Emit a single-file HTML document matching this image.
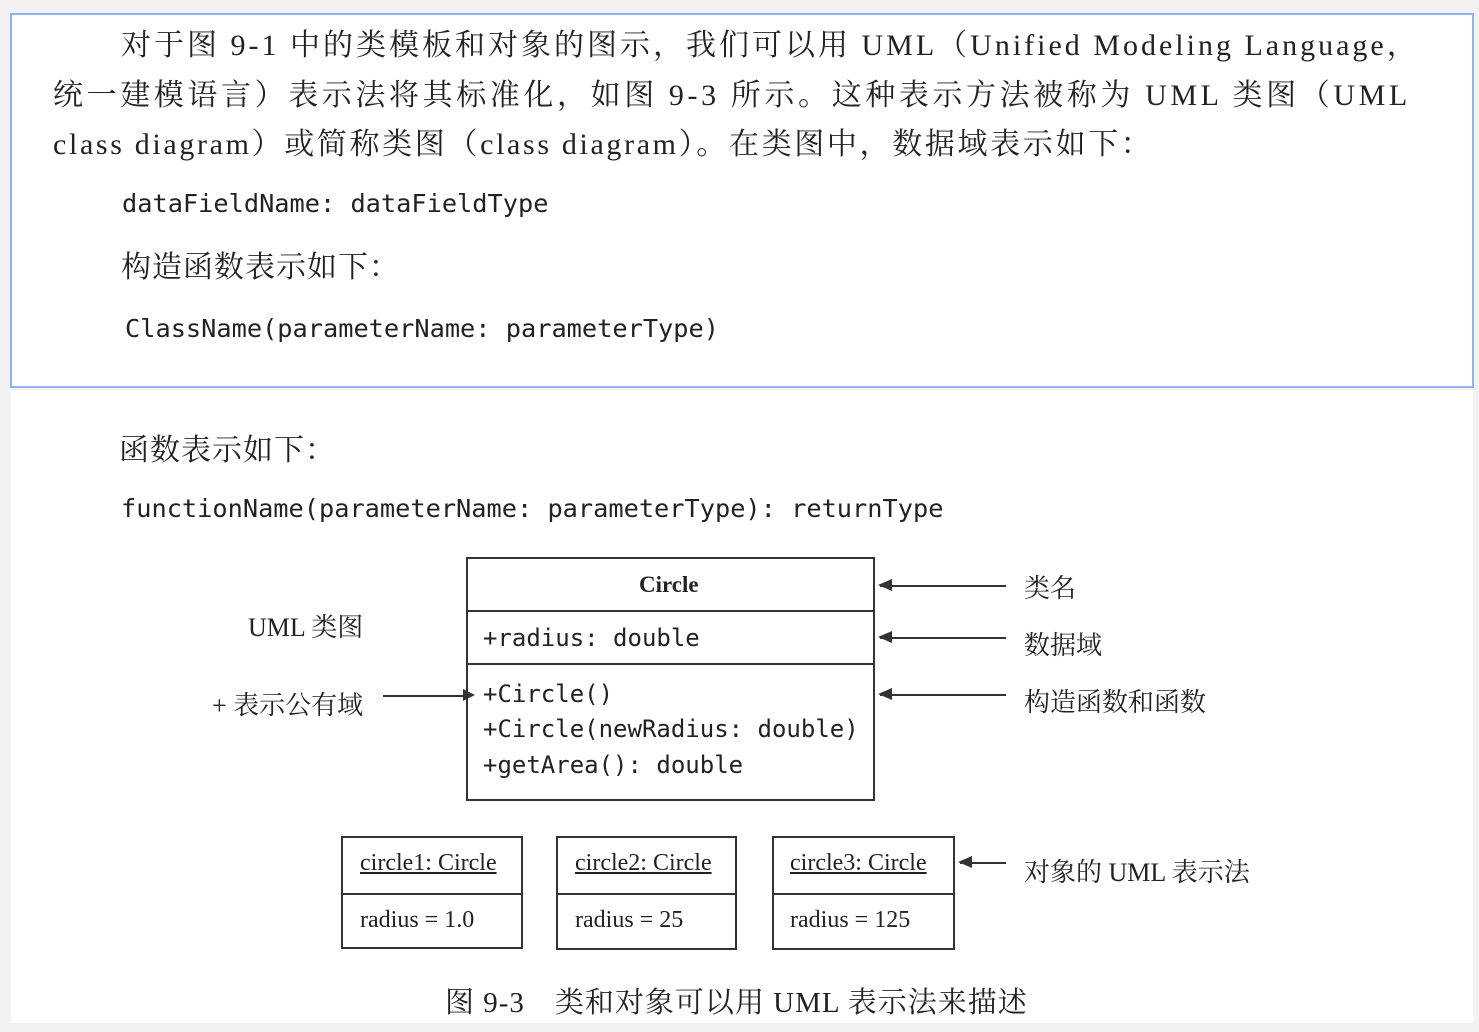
<!DOCTYPE html>
<html><head><meta charset="utf-8"><style>
body{margin:0;width:1479px;height:1032px;background:#f2f2f2;position:relative;overflow:hidden;font-family:"Liberation Serif","Noto Serif CJK SC",serif;color:#222}
.a{position:absolute;white-space:nowrap}
.top{position:absolute;left:10px;top:13px;width:1460px;height:371px;background:#fff;border:2px solid #8fb3ea}
.bot{position:absolute;left:11px;top:390px;width:1462px;height:633px;background:#fff}
.t{font-size:30px}
.m{font-family:"DejaVu Sans Mono","Liberation Mono",monospace;font-size:25.3px}
.mb{font-family:"DejaVu Sans Mono","Liberation Mono",monospace;font-size:24px}
.box{position:absolute;border:2px solid #333;box-sizing:border-box}
.ln{position:absolute;height:0;border-top:2px solid #333}
.c{font-size:24px}
.k{font-size:26px}
</style></head><body>
<div class="top"></div>
<div class="bot"></div>
<div class="a t" style="left:121px;top:20px;letter-spacing:3px">对于图 9-1 中的类模板和对象的图示，我们可以用 UML（Unified Modeling Language，</div>
<div class="a t" style="left:53px;top:70px;letter-spacing:3.6px">统一建模语言）表示法将其标准化，如图 9-3 所示。这种表示方法被称为 UML 类图（UML</div>
<div class="a t" style="left:53px;top:119px;letter-spacing:2.65px">class diagram）或简称类图（class diagram）。在类图中，数据域表示如下：</div>
<div class="a m" style="left:122px;top:189px">dataFieldName: dataFieldType</div>
<div class="a t" style="left:121px;top:242px;letter-spacing:1px">构造函数表示如下：</div>
<div class="a m" style="left:125px;top:314px">ClassName(parameterName: parameterType)</div>
<div class="a t" style="left:119px;top:425px;letter-spacing:1px">函数表示如下：</div>
<div class="a m" style="left:121px;top:494px">functionName(parameterName: parameterType): returnType</div>

<div class="box" style="left:466px;top:557px;width:409px;height:244px"></div>
<div class="ln" style="left:466px;top:610px;width:409px"></div>
<div class="ln" style="left:466px;top:663px;width:409px"></div>
<div class="a c" style="left:639px;top:572px;font-weight:bold;font-size:23px">Circle</div>
<div class="a mb" style="left:483px;top:624px">+radius: double</div>
<div class="a mb" style="left:483px;top:680px">+Circle()</div>
<div class="a mb" style="left:483px;top:715px">+Circle(newRadius: double)</div>
<div class="a mb" style="left:483px;top:751px">+getArea(): double</div>

<div class="a k" style="left:248px;top:607px">UML 类图</div>
<div class="a k" style="left:212px;top:685px">+ 表示公有域</div>
<div class="ln" style="left:383px;top:695px;width:80px"></div>
<div class="a" style="left:463px;top:689px;border-left:12px solid #333;border-top:6px solid transparent;border-bottom:6px solid transparent"></div>

<div class="ln" style="left:880px;top:585px;width:126px"></div>
<div class="ln" style="left:880px;top:637px;width:126px"></div>
<div class="ln" style="left:880px;top:694px;width:126px"></div>
<div class="ln" style="left:960px;top:862px;width:46px"></div>
<div class="a" style="left:878px;top:579px;border-right:14px solid #333;border-top:6px solid transparent;border-bottom:6px solid transparent"></div>
<div class="a" style="left:878px;top:631px;border-right:14px solid #333;border-top:6px solid transparent;border-bottom:6px solid transparent"></div>
<div class="a" style="left:878px;top:688px;border-right:14px solid #333;border-top:6px solid transparent;border-bottom:6px solid transparent"></div>
<div class="a" style="left:958px;top:856px;border-right:14px solid #333;border-top:6px solid transparent;border-bottom:6px solid transparent"></div>
<div class="a k" style="left:1024px;top:568px">类名</div>
<div class="a k" style="left:1024px;top:625px">数据域</div>
<div class="a k" style="left:1024px;top:682px">构造函数和函数</div>
<div class="a k" style="left:1024px;top:852px">对象的 UML 表示法</div>

<div class="box" style="left:341px;top:836px;width:182px;height:113px"></div>
<div class="ln" style="left:341px;top:893px;width:182px"></div>
<div class="a c" style="left:360px;top:850px;text-decoration:underline">circle1: Circle</div>
<div class="a c" style="left:360px;top:907px">radius = 1.0</div>
<div class="box" style="left:556px;top:836px;width:181px;height:114px"></div>
<div class="ln" style="left:556px;top:893px;width:181px"></div>
<div class="a c" style="left:575px;top:850px;text-decoration:underline">circle2: Circle</div>
<div class="a c" style="left:575px;top:907px">radius = 25</div>
<div class="box" style="left:772px;top:836px;width:183px;height:114px"></div>
<div class="ln" style="left:772px;top:893px;width:183px"></div>
<div class="a c" style="left:790px;top:850px;text-decoration:underline">circle3: Circle</div>
<div class="a c" style="left:790px;top:907px">radius = 125</div>

<div class="a" style="left:445px;top:980px;font-size:29px;letter-spacing:1px">图 9-3　类和对象可以用 UML 表示法来描述</div>
</body></html>
